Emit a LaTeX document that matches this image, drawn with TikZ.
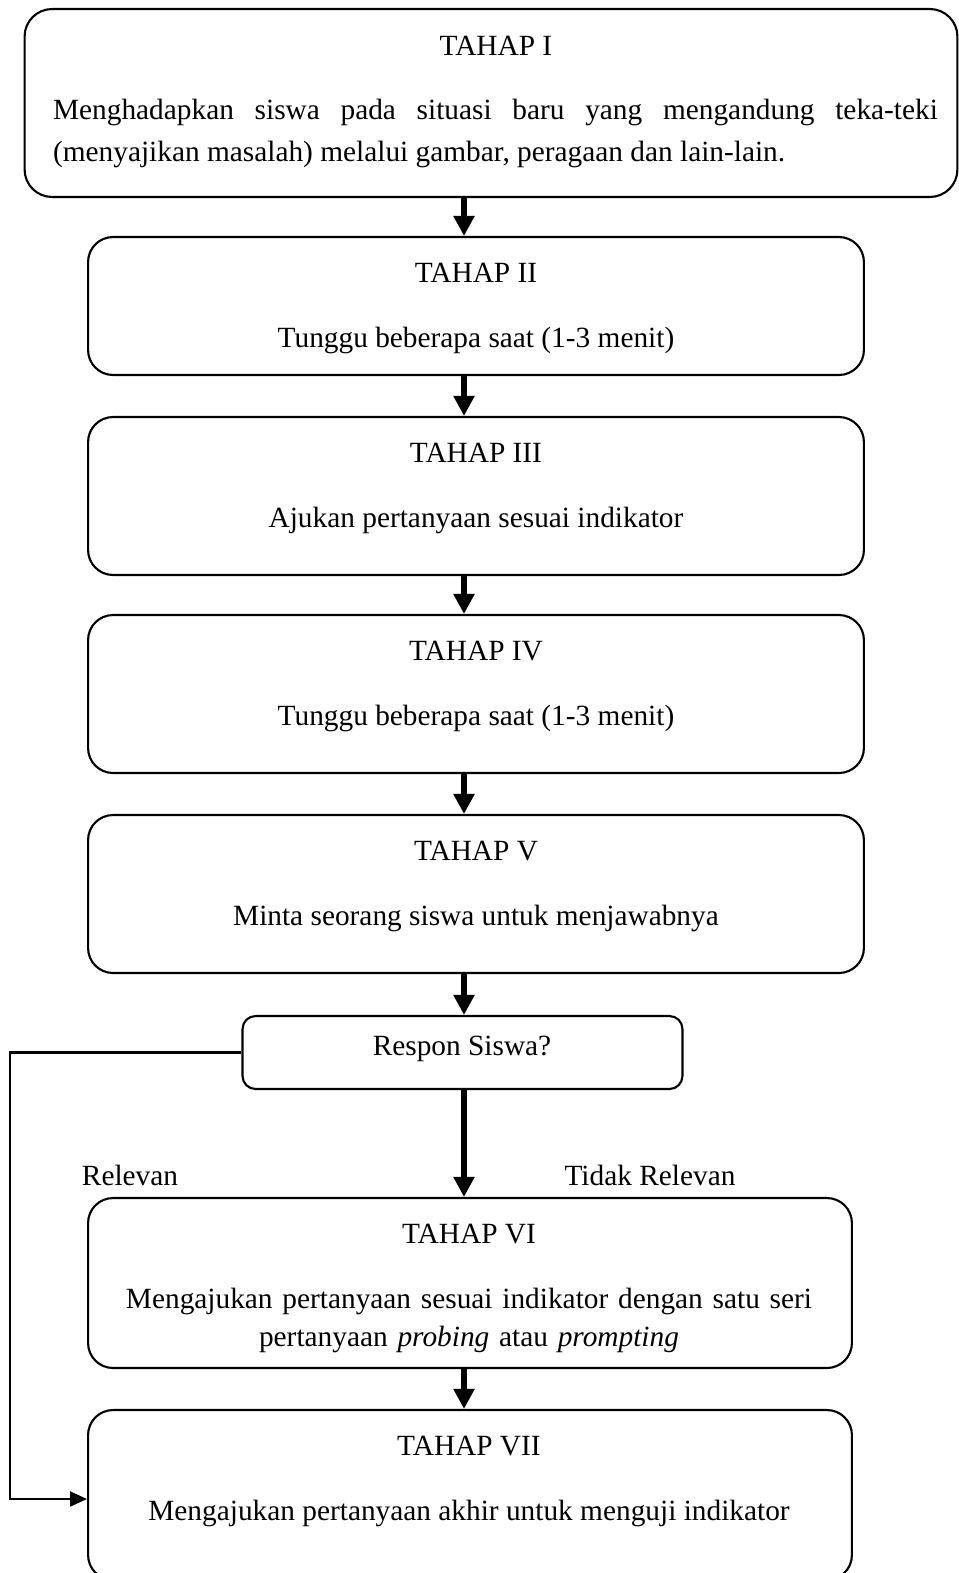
\documentclass[tikz,border=0pt]{standalone}
\usepackage{fontspec}
\setmainfont{Liberation Serif}
\usetikzlibrary{arrows.meta,positioning}

\begin{document}
\begin{tikzpicture}[
  x=0.02cm, y=-0.02cm,
  >=Stealth,
  tahap/.style={rectangle, draw=black, line width=1.2pt, rounded corners=0.5cm, inner sep=0pt},
  txt/.style={anchor=base, inner sep=0pt, font=\fontsize{16.7}{24.4}\selectfont},
  flow/.style={-{Triangle[length=0.4cm, width=0.4cm]}, draw=black, line width=3.3pt},
  link/.style={-{Triangle[length=0.34cm, width=0.3cm]}, draw=black, line width=1.2pt}
]
  \useasboundingbox (0,0) rectangle (958,1573);
  \node[tahap, rounded corners=0.55cm, minimum width=18.66cm, minimum height=3.76cm] (b1) at (491,103) {};
  \node[tahap, minimum width=15.52cm, minimum height=2.76cm] (b2) at (476,306) {};
  \node[tahap, minimum width=15.52cm, minimum height=3.16cm] (b3) at (476,496) {};
  \node[tahap, minimum width=15.52cm, minimum height=3.16cm] (b4) at (476,694) {};
  \node[tahap, minimum width=15.52cm, minimum height=3.16cm] (b5) at (476,894) {};
  \node[tahap, rounded corners=0.26cm, minimum width=8.8cm, minimum height=1.46cm] (resp) at (462.5,1052.5) {};
  \node[tahap, minimum width=15.28cm, minimum height=3.4cm] (b6) at (470,1283) {};
  \node[tahap, minimum width=15.28cm, minimum height=3.4cm] (b7) at (470,1495) {};

  \node[txt] (t1) at (496,55) {TAHAP I};
  \node[txt, text width=17.7cm, align=justify] (d1) at (495.5,119) {Menghadapkan siswa pada situasi baru yang mengandung teka-teki\linebreak (menyajikan masalah) melalui gambar, peragaan dan lain-lain.};
  \node[txt] (t2) at (476,282) {TAHAP II};
  \node[txt] (d2) at (476,347) {Tunggu beberapa saat (1-3 menit)};
  \node[txt] (t3) at (476,462) {TAHAP III};
  \node[txt] (d3) at (476,527) {Ajukan pertanyaan sesuai indikator};
  \node[txt] (t4) at (476,660) {TAHAP IV};
  \node[txt] (d4) at (476,725) {Tunggu beberapa saat (1-3 menit)};
  \node[txt] (t5) at (476,860) {TAHAP V};
  \node[txt] (d5) at (476,925) {Minta seorang siswa untuk menjawabnya};
  \node[txt] (tr) at (462,1055) {Respon Siswa?};
  \node[txt] (rel) at (130,1185) {Relevan};
  \node[txt] (trel) at (650,1185) {Tidak Relevan};
  \node[txt] (t6) at (469,1243) {TAHAP VI};
  \node[txt, text width=15cm, align=center, font=\fontsize{16.7}{22}\selectfont] (d6) at (469,1308) {Mengajukan pertanyaan sesuai indikator dengan satu seri\\pertanyaan \textit{probing} atau \textit{prompting}};
  \node[txt] (t7) at (469,1455) {TAHAP VII};
  \node[txt] (d7) at (469,1520) {Mengajukan pertanyaan akhir untuk menguji indikator};

  \coordinate (ax) at (464,0);
  \coordinate (cl) at (10,1499);
  \draw[flow] (b1.south -| ax) -- (b2.north -| ax);
  \draw[flow] (b2.south -| ax) -- (b3.north -| ax);
  \draw[flow] (b3.south -| ax) -- (b4.north -| ax);
  \draw[flow] (b4.south -| ax) -- (b5.north -| ax);
  \draw[flow] (b5.south -| ax) -- (resp.north -| ax);
  \draw[flow] (resp.south -| ax) -- (b6.north -| ax);
  \draw[flow] (b6.south -| ax) -- (b7.north -| ax);
  \draw[link] (resp.west) -| (cl) -- (b7.west |- cl);
\end{tikzpicture}
\end{document}
